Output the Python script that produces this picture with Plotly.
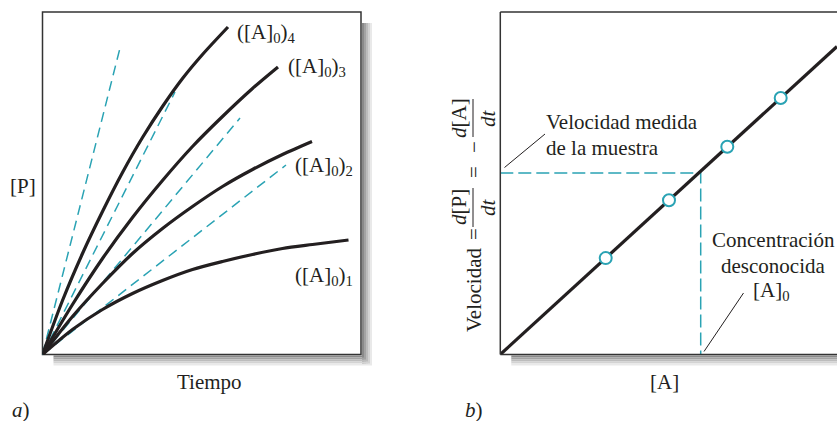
import plotly.graph_objects as go

W, H = 837, 421

# ---------------- Data: panel a) [P] vs Tiempo ----------------
t_curve1 = [0, 30, 60, 90, 120, 150, 180, 210, 240, 270, 306]
p_curve1 = [0, 25, 45, 61, 74, 85, 93, 100, 106, 110, 114.5]
t_curve2 = [0, 30, 60, 90, 120, 150, 180, 210, 240, 269.5]
p_curve2 = [0, 38, 71, 101, 126, 148, 168, 185, 200, 213]
t_curve3 = [0, 30, 60, 90, 120, 150, 180, 210, 235.5]
p_curve3 = [0, 50, 96, 137, 174, 208, 238, 266, 287.5]
t_curve4 = [0, 20, 40, 60, 80, 100, 120, 140, 160, 185.5]
p_curve4 = [0, 54, 101, 143, 182, 217, 248, 276, 300, 327.5]
curve_labels = ["([A]<sub>0</sub>)<sub>1</sub>", "([A]<sub>0</sub>)<sub>2</sub>",
                "([A]<sub>0</sub>)<sub>3</sub>", "([A]<sub>0</sub>)<sub>4</sub>"]
# initial-rate tangents (start at origin)
tangent_t_end = [77.5, 132.5, 197.5, 243.5]
tangent_p_end = [306.5, 262.5, 236.5, 189.5]

# ---------------- Data: panel b) Velocidad vs [A] ----------------
conc_line = [0, 336.7]
rate_line = [0, 308]
conc_pts = [105.4, 168.7, 227, 280.4]
rate_pts = [96.4, 154.3, 207.7, 256.5]
sample_rate = 181.5
unknown_conc = 200.4

# ---------------- Styles ----------------
TEAL = "#2aa3b4"
INK = "#231f20"
FONT = "Liberation Serif"
FS = 21

def px(x):
    return x / W

def py(y):
    return 1 - y / H

# box geometry (pixels)
A_L, A_R, TOP, BOT = 42.5, 361, 12, 354.5
B_L = 500.3

fig = go.Figure()

curves = [(t_curve1, p_curve1), (t_curve2, p_curve2), (t_curve3, p_curve3), (t_curve4, p_curve4)]
for i in range(4):
    fig.add_trace(go.Scatter(x=[0, tangent_t_end[i]], y=[0, tangent_p_end[i]], mode="lines",
                             line=dict(color=TEAL, width=1.5, dash="10px,6px"),
                             xaxis="x", yaxis="y", hoverinfo="skip"))
for t, p in curves:
    fig.add_trace(go.Scatter(x=t, y=p, mode="lines",
                             line=dict(color=INK, width=3.2, shape="spline", smoothing=0.8),
                             xaxis="x", yaxis="y", hoverinfo="skip"))

# panel b
fig.add_trace(go.Scatter(x=[0, unknown_conc, unknown_conc], y=[sample_rate, sample_rate, 0], mode="lines",
                         line=dict(color=TEAL, width=1.5, dash="13px,5px"),
                         xaxis="x2", yaxis="y2", hoverinfo="skip"))
fig.add_trace(go.Scatter(x=conc_line, y=rate_line, mode="lines",
                         line=dict(color=INK, width=3.2),
                         xaxis="x2", yaxis="y2", hoverinfo="skip"))
fig.add_trace(go.Scatter(x=conc_pts, y=rate_pts, mode="markers",
                         marker=dict(size=12, color="white", line=dict(color=TEAL, width=2)),
                         xaxis="x2", yaxis="y2", hoverinfo="skip"))

ax_common = dict(showgrid=False, zeroline=False, showticklabels=False, ticks="",
                 showline=False, fixedrange=True)
fig.update_layout(
    width=W, height=H, margin=dict(l=0, r=0, t=0, b=0),
    paper_bgcolor="white", plot_bgcolor="rgba(0,0,0,0)", showlegend=False,
    xaxis=dict(domain=[px(A_L), px(A_R)], range=[0, A_R - A_L], **ax_common),
    yaxis=dict(domain=[py(BOT), py(TOP)], range=[0, BOT - TOP], **ax_common),
    xaxis2=dict(domain=[px(B_L), 1], range=[0, W - B_L], anchor="y2", **ax_common),
    yaxis2=dict(domain=[py(BOT), py(TOP)], range=[0, BOT - TOP], anchor="x2", **ax_common),
)

shapes = []
# shadows (gradient stripes)
greys = ["#8a8a8a", "#a3a3a3", "#bcbcbc", "#d3d3d3", "#e9e9e9"]
for k, g in enumerate(greys):
    shapes.append(dict(type="rect", xref="paper", yref="paper", layer="below",
                       x0=px(A_R + 1 + 2 * k), x1=px(A_R + 3 + 2 * k), y0=py(BOT + 10), y1=py(TOP + 11),
                       fillcolor=g, line=dict(width=0)))
    shapes.append(dict(type="rect", xref="paper", yref="paper", layer="below",
                       x0=px(A_L + 11), x1=px(A_R + 1 + 2 * k + 2), y0=py(BOT + 1 + 2 * k), y1=py(BOT + 3 + 2 * k),
                       fillcolor=g, line=dict(width=0)))
    shapes.append(dict(type="rect", xref="paper", yref="paper", layer="below",
                       x0=px(B_L + 11), x1=1, y0=py(BOT + 1 + 2 * k), y1=py(BOT + 3 + 2 * k),
                       fillcolor=g, line=dict(width=0)))
# white box interiors / borders
shapes.append(dict(type="rect", xref="paper", yref="paper", layer="below",
                   x0=px(A_L), x1=px(A_R), y0=py(BOT), y1=py(TOP), fillcolor="white",
                   line=dict(color="#333333", width=1.5)))
shapes.append(dict(type="rect", xref="paper", yref="paper", layer="below",
                   x0=px(B_L), x1=1, y0=py(BOT), y1=py(TOP), fillcolor="white", line=dict(width=0)))
for (x0, y0, x1, y1) in [(B_L, TOP, W, TOP), (B_L, TOP, B_L, BOT), (B_L, BOT, W, BOT)]:
    shapes.append(dict(type="line", xref="paper", yref="paper", x0=px(x0), y0=py(y0), x1=px(x1), y1=py(y1),
                       line=dict(color="#333333", width=1.5)))
# leader lines
shapes.append(dict(type="line", xref="paper", yref="paper", x0=px(545), y0=py(134), x1=px(504.5), y1=py(167.5),
                   line=dict(color=INK, width=1)))
shapes.append(dict(type="line", xref="paper", yref="paper", x0=px(743.5), y0=py(293), x1=px(704), y1=py(351.5),
                   line=dict(color=INK, width=1)))
# fraction bars in y title
shapes.append(dict(type="line", xref="paper", yref="paper", x0=px(473), y0=py(188), x1=px(473), y1=py(227),
                   line=dict(color=INK, width=1)))
shapes.append(dict(type="line", xref="paper", yref="paper", x0=px(473), y0=py(99), x1=px(473), y1=py(137),
                   line=dict(color=INK, width=1)))
fig.update_layout(shapes=shapes)

ann = []
def text(s, x, y, xa="center", ya="middle", size=FS, angle=0):
    ann.append(dict(text=s, x=px(x), y=py(y), xref="paper", yref="paper", showarrow=False,
                    xanchor=xa, yanchor=ya, textangle=angle,
                    font=dict(family=FONT, size=size, color=INK)))

# curve labels panel a
text(curve_labels[3], 235, 33, xa="left")
text(curve_labels[2], 286, 67, xa="left")
text(curve_labels[1], 293, 166, xa="left")
text(curve_labels[0], 293, 276, xa="left")
text("[P]", 23, 186)
text("Tiempo", 209, 382)
text("<i>a</i>)", 21, 410)

# panel b texts
text("Velocidad medida", 544, 122, xa="left")
text("de la muestra", 544, 148, xa="left")
text("Concentración", 773, 240)
text("desconocida", 773, 266)
text("[A]<sub>0</sub>", 771, 291)
text("[A]", 664, 382)
text("<i>b</i>)", 474, 410)

# rotated y-axis title with fractions
text("Velocidad", 474, 290, angle=-90)
text("=", 474, 234, angle=-90)
text("<i>d</i>[P]", 459, 207, angle=-90)
text("<i>dt</i>", 488, 207, angle=-90)
text("=", 474, 172, angle=-90)
text("\u2212", 474, 147, angle=-90)
text("<i>d</i>[A]", 459, 118, angle=-90)
text("<i>dt</i>", 488, 118, angle=-90)

fig.update_layout(annotations=ann)
fig.write_html("out.html", config={"displayModeBar": False, "staticPlot": True},
               post_script="document.body.style.margin='0';document.body.style.overflow='hidden';")
